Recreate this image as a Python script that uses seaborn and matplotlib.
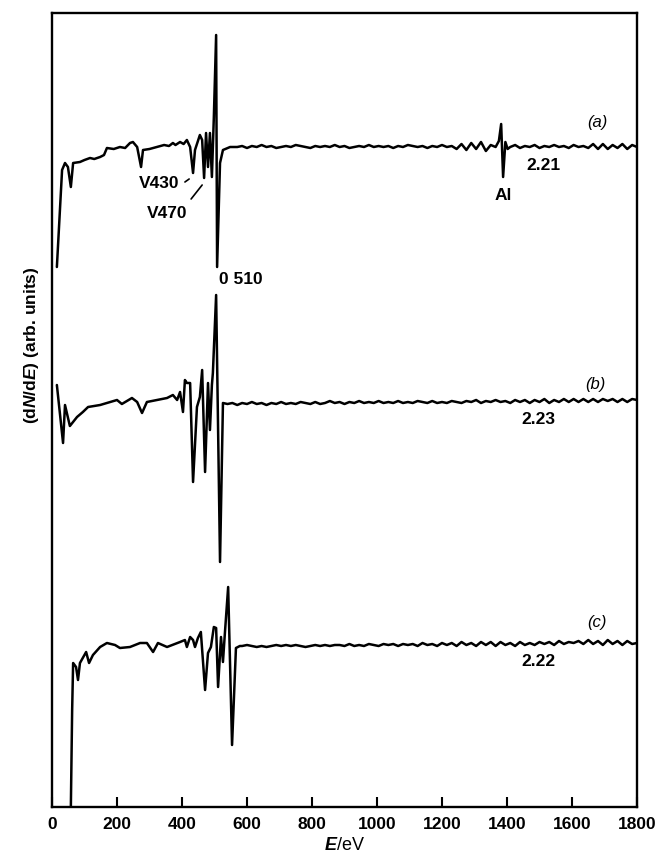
import numpy as np
import pandas as pd
import matplotlib
matplotlib.use("Agg")
import matplotlib.pyplot as plt
import seaborn as sns

# ---------------- data (E in eV, intensity in arbitrary units) ----------------
# trace (a): low-energy / Auger region
a_E_peak = [15, 31, 40, 49, 58, 65, 86, 100, 117, 130, 148, 160, 169, 190, 209, 225, 240,
            249, 262, 274, 280, 300, 323, 345, 360, 372, 380, 394, 405, 415, 425, 434,
            440, 455, 462, 468, 474, 480, 486, 492, 498, 505, 508, 517, 526, 548]
a_Y_peak = [540, 637, 644, 640, 620, 644, 645, 647, 649, 648, 650, 652, 659, 658, 660, 659, 664,
            665, 660, 640, 657, 658, 660, 662, 661, 664, 662, 665, 663, 667, 660, 634,
            657, 672, 667, 629, 674, 640, 674, 630, 690, 772, 540, 644, 657, 660]
a_E_base1 = np.arange(570, 1351, 15)
a_Y_base1 = [660, 661, 659, 661, 660, 662, 660, 661, 659, 660,
             661, 660, 662, 661, 660, 659, 661, 660, 661, 660,
             662, 660, 661, 659, 660, 661, 660, 662, 660, 661,
             660, 661, 659, 661, 660, 662, 661, 660, 661, 659,
             661, 660, 662, 660, 661, 658, 663, 657, 664, 658,
             665, 656, 662]
a_E_al = [1365, 1375, 1382, 1388, 1395, 1402]
a_Y_al = [660, 666, 683, 630, 665, 658]
a_E_base2 = np.arange(1410, 1801, 15)
a_Y_base2 = [660, 662, 659, 661, 660, 662, 659, 661, 660, 662,
             660, 661, 659, 662, 660, 661, 659, 663, 658, 663,
             658, 662, 659, 663, 658, 662, 660]

# trace (b)
b_E_peak = [15, 34, 40, 55, 77, 95, 111, 148, 200, 215, 246, 262, 277, 292, 323, 354,
            372, 385, 394, 403, 409, 415, 425, 434, 446, 455, 462, 471, 480, 486, 492,
            495, 505, 517, 526]
b_Y_peak = [422, 364, 402, 381, 390, 395, 400, 402, 407, 403, 409, 405, 394, 405, 407, 409,
            412, 407, 415, 395, 427, 424, 424, 325, 400, 410, 437, 335, 424, 377, 422,
            434, 512, 245, 404]
b_E_base = np.arange(540, 1801, 15)
b_Y_base = [403, 404, 402, 404, 403, 405, 403, 404, 402, 404,
            403, 405, 403, 404, 403, 405, 404, 403, 405, 403,
            404, 406, 404, 405, 403, 405, 404, 406, 404, 405,
            404, 406, 404, 405, 404, 406, 404, 405, 404, 406,
            405, 404, 406, 404, 405, 404, 406, 405, 404, 406,
            405, 407, 404, 406, 405, 407, 405, 406, 404, 407,
            405, 407, 404, 407, 405, 408, 404, 407, 405, 408,
            405, 408, 405, 408, 405, 408, 405, 408, 406, 408,
            405, 408, 405, 408, 407]

# trace (c)
c_E_peak = [58, 62, 65, 74, 80, 86, 105, 114, 126, 148, 169, 194, 209, 240, 271, 292,
            311, 326, 354, 394, 409, 415, 425, 434, 440, 449, 458, 471, 480, 489, 498,
            505, 511, 520, 526, 532, 542, 554, 566, 578]
c_Y_peak = [0, 97, 144, 140, 127, 144, 155, 144, 152, 160, 164, 162, 159, 160, 164, 164,
            155, 164, 160, 165, 167, 160, 170, 167, 160, 169, 175, 117, 154, 160, 180,
            179, 120, 170, 145, 174, 220, 62, 159, 161]
c_E_base = np.arange(585, 1801, 15)
c_Y_base = [161, 162, 161, 160, 161, 160, 161, 162, 161, 162,
            161, 162, 161, 160, 161, 162, 161, 162, 161, 162,
            162, 161, 163, 161, 162, 161, 163, 162, 161, 163,
            162, 163, 161, 163, 162, 163, 161, 164, 162, 163,
            161, 164, 162, 164, 161, 165, 162, 164, 161, 165,
            162, 165, 161, 165, 162, 164, 161, 165, 162, 164,
            162, 165, 163, 165, 162, 166, 163, 165, 164, 166,
            163, 167, 163, 166, 162, 167, 163, 166, 162, 166,
            163, 164]

x_ticks = [0, 200, 400, 600, 800, 1000, 1200, 1400, 1600, 1800]

# ---------------- build frame ----------------
frames = []
for name, Es, Ys in [
    ("a", [a_E_peak, a_E_base1, a_E_al, a_E_base2], [a_Y_peak, a_Y_base1, a_Y_al, a_Y_base2]),
    ("b", [b_E_peak, b_E_base], [b_Y_peak, b_Y_base]),
    ("c", [c_E_peak, c_E_base], [c_Y_peak, c_Y_base]),
]:
    E = np.concatenate([np.asarray(e, dtype=float) for e in Es])
    Y = np.concatenate([np.asarray(y, dtype=float) for y in Ys])
    frames.append(pd.DataFrame({"E": E, "I": Y, "trace": name}))
df = pd.concat(frames, ignore_index=True)

# ---------------- style ----------------
sns.set_style("ticks")
plt.rcParams["font.family"] = ["Liberation Sans", "DejaVu Sans"]
plt.rcParams["mathtext.fontset"] = "custom"
plt.rcParams["mathtext.it"] = "Liberation Sans:italic:bold"
plt.rcParams["mathtext.rm"] = "Liberation Sans:bold"
plt.rcParams["text.color"] = "black"
plt.rcParams["axes.labelcolor"] = "black"
plt.rcParams["xtick.color"] = "black"
plt.rcParams["ytick.color"] = "black"

fig = plt.figure(figsize=(6.6, 8.59), dpi=100)
ax = fig.add_axes([52 / 660, 52 / 859, 585 / 660, 794 / 859])

for name in ["a", "b", "c"]:
    sns.lineplot(data=df[df["trace"] == name], x="E", y="I", sort=False,
                 estimator=None, color="black", linewidth=1.8, ax=ax)

ax.set_xlim(0, 1800)
ax.set_ylim(0, 794)
ax.set_xticks(x_ticks)
ax.set_xticklabels([str(t) for t in x_ticks], fontsize=12.5, fontweight="bold")
ax.set_yticks([])
ax.tick_params(axis="x", direction="in", length=7, width=1.5, pad=7, top=False,
               colors="black")
for s in ax.spines.values():
    s.set_linewidth(1.7)
    s.set_color("black")
    s.set_visible(True)

ax.set_xlabel(r"$E$/eV", fontsize=13, labelpad=4, color="black")
ax.set_ylabel("")
fig.text(32 / 660, 1 - 345 / 859, r"(d$N$/d$E$) (arb. units)", rotation=90,
         ha="center", va="center", fontsize=12.5, fontweight="bold", color="black")

tk = dict(fontsize=12.5, fontweight="bold", ha="center", va="center", color="black")
it = dict(style="italic", fontsize=12, ha="center", va="center", color="black")
ax.text(1677, 685, "(a)", **it)
ax.text(1511, 642, "2.21", **tk)
ax.text(1388, 612, "Al", **tk)
ax.text(330, 624, "V430", **tk)
ax.text(355, 594, "V470", **tk)
ax.text(581, 527, "0 510", **tk)
ax.plot([409, 422], [625, 628], color="black", lw=1.2)
ax.plot([428, 462], [608, 622], color="black", lw=1.2)
ax.text(1671, 422, "(b)", **it)
ax.text(1498, 387, "2.23", **tk)
ax.text(1677, 184, "(c)", **it)
ax.text(1498, 145, "2.22", **tk)

fig.savefig("out.png", dpi=100)
